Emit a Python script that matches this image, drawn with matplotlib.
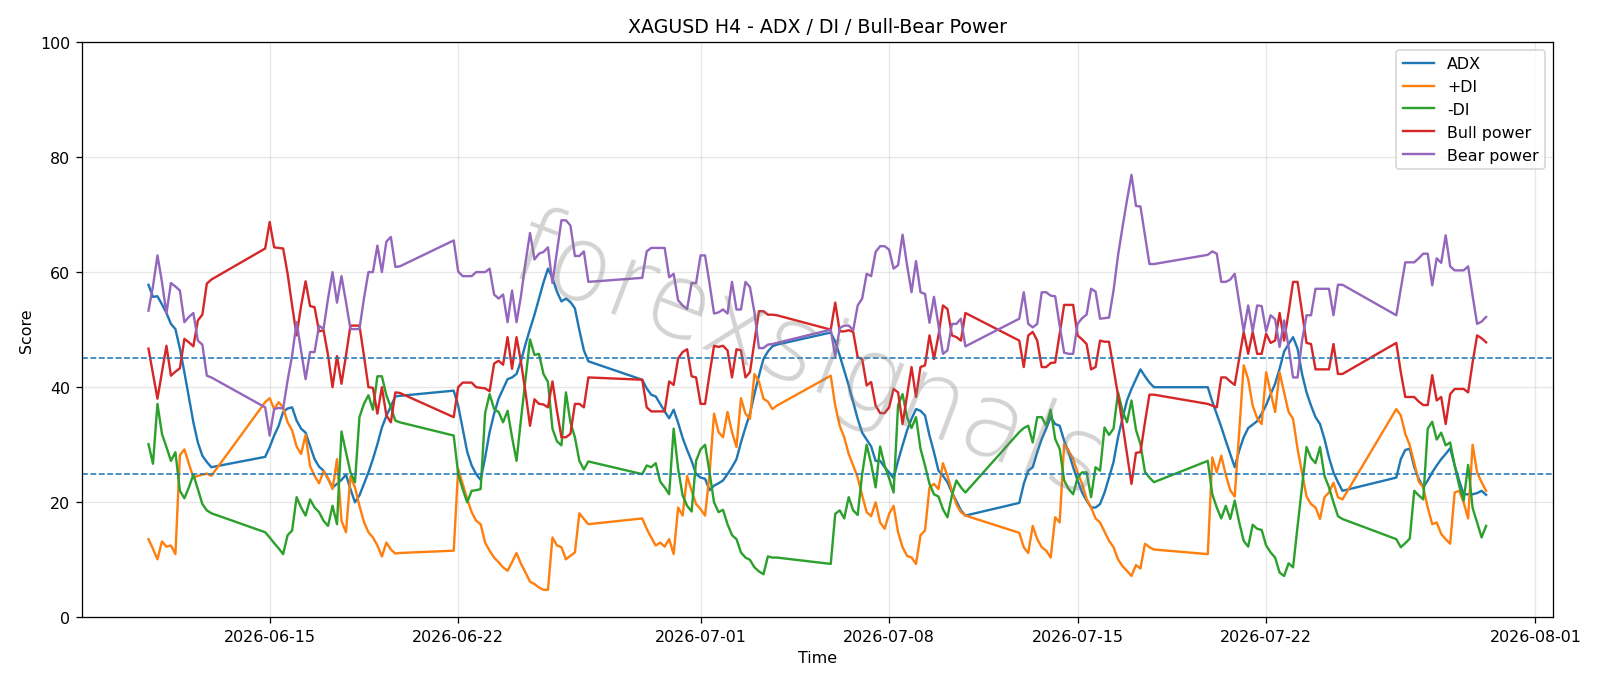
import numpy as np
import pandas as pd
import matplotlib
matplotlib.use("Agg")
import matplotlib.pyplot as plt

# H4 bars: partial first week, then Sunday 20:00 -> Friday 20:00 sessions
sessions = [
    ("2026-06-10 12:00", "2026-06-12 20:00"),
    ("2026-06-14 20:00", "2026-06-19 20:00"),
    ("2026-06-21 20:00", "2026-06-26 20:00"),
    ("2026-06-28 20:00", "2026-07-03 20:00"),
    ("2026-07-05 20:00", "2026-07-10 20:00"),
    ("2026-07-12 20:00", "2026-07-17 20:00"),
    ("2026-07-19 20:00", "2026-07-24 20:00"),
    ("2026-07-26 20:00", "2026-07-30 04:00"),
]
times = pd.DatetimeIndex(np.concatenate(
    [pd.date_range(a, b, freq="4h").values for a, b in sessions]))

adx = [
    57.8, 55.7, 55.8, 54.4, 52.9, 51.0, 50.1, 46.7, 42.6, 38.3, 33.9, 30.4, 28.1, 27.0, 26.1,
    27.9, 29.6, 31.6, 33.3, 35.7, 36.3, 36.5, 34.2, 32.8, 32.1, 29.8, 27.5, 26.2, 25.5, 24.1,
    22.6, 23.2, 23.9, 24.8, 22.3, 20.0, 21.2, 23.2, 25.2, 27.5, 30.1, 33.0, 35.0, 36.7, 38.4, 38.5,
    39.4, 36.8, 32.8, 28.8, 26.4, 24.9, 23.9, 27.8, 32.2, 35.4, 38.0, 39.7, 41.4, 41.7, 42.3,
    44.6, 47.5, 50.1, 52.6, 55.4, 58.2, 60.6, 59.0, 56.6, 54.9, 55.4, 54.8, 53.7, 49.9, 46.4, 44.5,
    41.3, 39.8, 38.7, 38.4, 37.1, 35.8, 34.6, 36.1, 33.8, 31.2, 29.1, 27.2, 24.9, 24.3, 24.1,
    22.1, 22.9, 23.3, 23.8, 24.9, 26.1, 27.5, 30.4, 33.0, 35.4, 38.8, 42.0, 44.9, 46.2, 47.1, 47.4,
    49.5, 47.9, 45.5, 42.9, 40.3, 37.4, 34.5, 32.1, 30.9, 29.7, 27.2, 27.2, 26.1, 25.2, 24.2,
    27.2, 29.9, 32.5, 34.5, 36.2, 35.9, 35.1, 31.6, 28.7, 25.5, 24.6, 23.5, 21.7, 20.2, 18.6, 17.7,
    19.9, 23.2, 25.5, 26.1, 28.7, 31.0, 32.8, 34.8, 33.6, 33.3, 30.7, 28.7, 26.1, 23.8, 21.7,
    20.3, 19.1, 19.1, 19.7, 21.7, 24.3, 27.0, 31.3, 34.6, 37.7, 39.7, 41.4, 43.1, 41.9, 40.8, 40.0,
    40.0, 37.5, 35.3, 33.1, 30.7, 28.4, 26.1, 29.0, 31.3, 32.9, 33.5, 34.1, 35.4, 36.9, 38.8,
    40.6, 43.2, 46.2, 47.5, 48.7, 46.7, 42.3, 39.1, 36.8, 34.8, 33.6, 31.0, 27.8, 25.2, 23.5, 22.0,
    24.3, 27.5, 29.1, 29.3, 26.1, 24.1, 22.6, 23.8, 25.2, 26.4, 27.5, 28.4, 29.4, 26.4, 23.8,
    21.4, 21.4, 21.4, 21.6, 22.0, 21.3,
]
plus_di = [
    13.6, 11.9, 10.1, 13.2, 12.3, 12.5, 11.0, 28.2, 29.2, 26.7, 24.3, 24.6, 24.8, 25.0, 24.6,
    37.4, 38.1, 36.2, 37.4, 36.5, 33.9, 32.5, 29.7, 28.4, 31.7, 26.3, 24.6, 23.3, 25.4, 24.2,
    22.3, 27.5, 16.8, 14.8, 24.5, 22.6, 19.4, 16.6, 14.8, 13.9, 12.5, 10.6, 13.0, 11.8, 11.1, 11.2,
    11.6, 25.8, 23.2, 20.6, 18.3, 16.8, 16.2, 13.0, 11.6, 10.4, 9.6, 8.7, 8.1, 9.6, 11.2,
    9.3, 7.8, 6.2, 5.8, 5.2, 4.8, 4.8, 13.9, 12.5, 12.2, 10.1, 10.7, 11.3, 18.1, 17.1, 16.2,
    17.2, 15.4, 13.9, 12.5, 13.0, 12.3, 13.6, 11.0, 19.1, 17.7, 24.6, 22.0, 19.7, 18.8, 17.7,
    25.0, 35.4, 32.2, 31.3, 35.7, 32.2, 29.6, 38.1, 35.4, 34.5, 42.3, 41.0, 38.0, 37.5, 36.2, 36.8,
    42.0, 36.8, 33.3, 31.3, 28.4, 26.4, 24.3, 21.2, 18.3, 17.6, 20.0, 16.5, 15.4, 18.0, 19.4,
    14.8, 12.2, 10.7, 10.4, 9.3, 14.3, 15.1, 22.6, 23.2, 22.3, 26.8, 24.6, 22.0, 19.6, 18.3, 17.7,
    14.7, 12.2, 11.2, 15.9, 13.6, 12.2, 11.6, 10.4, 17.4, 16.5, 30.1, 29.0, 27.5, 25.2, 23.2,
    20.6, 19.1, 17.2, 16.5, 14.9, 13.3, 12.2, 10.1, 8.9, 8.1, 7.2, 9.1, 8.5, 12.8, 12.2, 11.8,
    11.0, 27.8, 25.2, 28.1, 24.8, 22.1, 21.0, 32.2, 43.8, 41.4, 36.8, 34.6, 33.6, 42.6, 39.1,
    35.7, 42.6, 39.1, 35.7, 34.5, 29.3, 25.2, 21.0, 19.7, 19.1, 17.1, 20.9, 21.7, 23.4, 20.9, 20.5,
    36.2, 35.1, 31.9, 29.9, 26.8, 23.6, 22.6, 19.1, 16.2, 16.5, 14.5, 13.6, 12.8, 21.7, 22.0,
    20.0, 17.2, 30.0, 25.2, 23.5, 22.0,
]
minus_di = [
    30.1, 26.7, 37.1, 31.9, 29.6, 27.2, 28.7, 22.0, 20.7, 22.6, 24.8, 22.3, 19.7, 18.6, 18.1,
    14.8, 13.9, 12.9, 12.0, 11.0, 14.3, 15.1, 20.9, 19.1, 17.7, 20.5, 19.1, 18.3, 16.8, 15.9,
    19.4, 16.2, 32.3, 28.7, 25.2, 23.5, 34.8, 37.1, 38.6, 36.1, 41.9, 41.9, 38.6, 36.5, 34.2, 33.9,
    31.6, 24.9, 22.3, 20.0, 22.0, 22.1, 22.3, 35.5, 38.8, 36.2, 35.7, 33.9, 35.9, 31.3, 27.2,
    34.5, 41.4, 48.3, 45.6, 45.8, 42.3, 40.9, 32.8, 30.6, 29.9, 39.1, 33.9, 31.3, 27.2, 25.7, 27.1,
    24.9, 26.4, 26.1, 26.8, 23.6, 22.6, 21.4, 32.8, 25.8, 21.2, 19.4, 18.4, 27.2, 29.2, 30.0,
    25.2, 20.0, 18.3, 18.7, 16.2, 14.3, 13.6, 11.3, 10.4, 10.0, 8.7, 8.0, 7.5, 10.6, 10.4, 10.4,
    9.3, 18.0, 18.6, 17.2, 20.9, 18.6, 17.8, 24.9, 30.0, 26.7, 22.6, 29.7, 26.4, 24.2, 21.7,
    36.9, 38.8, 34.8, 32.9, 34.8, 29.3, 26.4, 23.2, 21.4, 21.0, 18.8, 17.4, 21.2, 23.8, 22.6, 21.7,
    32.2, 32.9, 33.3, 30.4, 34.8, 34.8, 33.3, 36.1, 31.0, 29.3, 23.8, 22.3, 21.4, 24.3, 25.2,
    25.2, 20.9, 26.1, 25.5, 33.0, 31.7, 32.8, 39.1, 35.9, 33.9, 37.7, 32.6, 30.1, 25.3, 24.3, 23.5,
    27.2, 21.4, 19.1, 17.2, 19.4, 17.1, 20.3, 16.5, 13.3, 12.3, 16.1, 15.4, 15.2, 12.5, 11.3,
    10.4, 7.8, 7.2, 9.4, 8.7, 15.8, 22.7, 29.6, 27.7, 26.8, 29.6, 24.6, 22.6, 20.0, 17.6, 17.1,
    13.6, 12.2, 12.9, 13.7, 22.0, 21.2, 20.5, 32.8, 34.0, 30.9, 32.1, 29.9, 30.4, 26.4, 22.9,
    20.3, 26.5, 19.0, 16.5, 13.9, 15.9,
]
bull = [
    46.7, 42.3, 38.0, 42.6, 47.2, 42.0, 42.7, 43.3, 48.4, 47.8, 47.1, 51.6, 52.6, 58.0, 58.7,
    64.1, 68.7, 64.3, 64.2, 64.1, 59.7, 54.2, 49.0, 54.1, 58.4, 54.1, 53.9, 49.7, 49.9, 45.6,
    40.0, 45.4, 40.6, 45.5, 50.7, 50.7, 50.7, 45.5, 40.0, 39.9, 35.4, 40.0, 35.1, 33.9, 39.1, 39.0,
    34.8, 40.0, 40.8, 40.8, 40.8, 40.0, 39.9, 39.8, 39.3, 44.1, 44.6, 43.9, 48.7, 43.2, 48.7,
    44.3, 39.1, 33.3, 37.9, 37.1, 37.0, 36.5, 41.0, 35.9, 31.3, 31.3, 31.9, 37.1, 37.1, 36.5, 41.7,
    41.3, 36.5, 35.8, 35.8, 35.8, 35.8, 41.0, 40.4, 45.0, 46.1, 46.6, 41.9, 41.7, 37.1, 37.1,
    42.3, 47.2, 47.0, 47.2, 46.4, 41.7, 46.6, 46.4, 41.7, 42.6, 47.9, 53.2, 53.2, 52.6, 52.6, 52.5,
    50.0, 54.7, 49.7, 49.7, 49.9, 49.6, 45.2, 44.9, 40.3, 40.9, 36.8, 35.5, 35.5, 36.5, 39.7,
    39.1, 33.6, 38.6, 43.5, 38.3, 43.5, 43.8, 49.0, 44.9, 49.0, 54.2, 53.6, 49.0, 48.7, 48.1, 52.9,
    48.1, 43.5, 49.0, 49.6, 48.1, 43.5, 43.5, 44.2, 44.3, 49.3, 54.3, 54.3, 54.3, 49.0, 48.3,
    47.5, 43.1, 43.5, 48.1, 47.9, 47.9, 43.2, 38.6, 33.6, 28.4, 23.2, 28.6, 28.7, 33.9, 38.7, 38.7,
    37.1, 36.8, 36.5, 41.7, 41.7, 41.0, 40.4, 45.0, 49.6, 45.8, 49.6, 45.8, 45.8, 49.3, 47.7,
    48.1, 52.9, 48.1, 53.0, 58.3, 58.3, 53.0, 47.7, 47.5, 43.1, 43.1, 43.1, 43.1, 47.5, 42.3, 42.3,
    47.7, 42.6, 38.3, 38.3, 38.3, 37.5, 36.9, 36.9, 42.1, 37.7, 38.3, 33.6, 38.8, 39.7, 39.7,
    39.7, 39.1, 44.3, 49.0, 48.5, 47.8,
]
bear = [
    53.3, 57.5, 62.9, 58.3, 52.8, 58.1, 57.5, 56.8, 51.3, 52.2, 52.9, 48.1, 47.4, 42.0, 41.7,
    36.5, 31.6, 36.2, 36.4, 36.3, 41.2, 45.5, 51.3, 46.4, 41.4, 46.1, 46.1, 50.7, 50.1, 55.4,
    60.0, 54.7, 59.3, 54.8, 50.1, 50.1, 50.1, 55.4, 60.0, 60.0, 64.6, 60.0, 65.3, 66.1, 60.9, 61.0,
    65.5, 60.1, 59.3, 59.3, 59.3, 60.0, 60.0, 60.0, 60.6, 56.1, 55.4, 56.1, 51.3, 56.8, 51.3,
    55.9, 61.7, 66.8, 62.2, 63.2, 63.5, 64.3, 58.1, 63.5, 69.0, 69.0, 68.1, 62.8, 62.8, 63.6, 58.3,
    59.0, 63.6, 64.2, 64.2, 64.2, 64.2, 59.1, 59.7, 55.1, 54.2, 53.6, 58.1, 58.1, 62.9, 62.9,
    58.0, 52.8, 53.0, 53.5, 52.8, 58.3, 53.5, 53.5, 58.3, 57.4, 53.0, 46.8, 46.8, 47.4, 47.5, 47.7,
    50.0, 45.3, 50.3, 50.7, 50.7, 49.9, 54.2, 55.4, 59.7, 59.3, 63.5, 64.5, 64.5, 63.9, 60.6,
    61.2, 66.5, 61.2, 56.5, 61.9, 56.5, 56.2, 51.2, 55.7, 50.7, 45.8, 46.4, 51.0, 51.0, 51.9, 47.1,
    51.9, 56.5, 51.0, 50.4, 51.0, 56.5, 56.5, 55.9, 55.8, 50.7, 46.0, 45.8, 45.8, 51.0, 52.0,
    52.6, 57.1, 56.6, 51.9, 52.0, 52.1, 56.8, 62.9, 67.8, 72.5, 76.9, 71.5, 71.4, 66.4, 61.4, 61.4,
    63.0, 63.6, 63.2, 58.3, 58.3, 58.7, 59.7, 54.7, 49.7, 54.2, 49.7, 54.2, 54.1, 49.7, 52.5,
    51.8, 47.0, 51.6, 47.0, 41.7, 41.7, 48.1, 52.5, 52.5, 57.1, 57.1, 57.1, 57.1, 52.5, 57.8, 57.8,
    52.5, 57.1, 61.7, 61.7, 61.7, 62.4, 63.2, 63.2, 57.7, 62.4, 61.6, 66.4, 61.0, 60.3, 60.3,
    60.3, 61.0, 55.9, 51.0, 51.4, 52.2,
]

fig, ax = plt.subplots(figsize=(14, 6.0025), dpi=114.2857)
fig.subplots_adjust(left=0.051, right=0.9706, top=0.9375, bottom=0.0985)

ax.plot(times, adx, label="ADX")
ax.plot(times, plus_di, label="+DI")
ax.plot(times, minus_di, label="-DI")
ax.plot(times, bull, label="Bull power")
ax.plot(times, bear, label="Bear power")

ax.axhline(25, linestyle="--", linewidth=1)
ax.axhline(45, linestyle="--", linewidth=1)

ax.set_ylim(0, 100)
ax.set_title("XAGUSD H4 - ADX / DI / Bull-Bear Power")
ax.set_xlabel("Time")
ax.set_ylabel("Score")
ax.grid(True, alpha=0.3)
ax.legend(loc="upper right")

# watermark
ax.text(0.494, 0.45, "forexsignals", transform=ax.transAxes, fontsize=66,
        color="gray", alpha=0.35, rotation=-21, ha="center", va="center",
        fontweight="light", zorder=10)

fig.savefig("out.png")
